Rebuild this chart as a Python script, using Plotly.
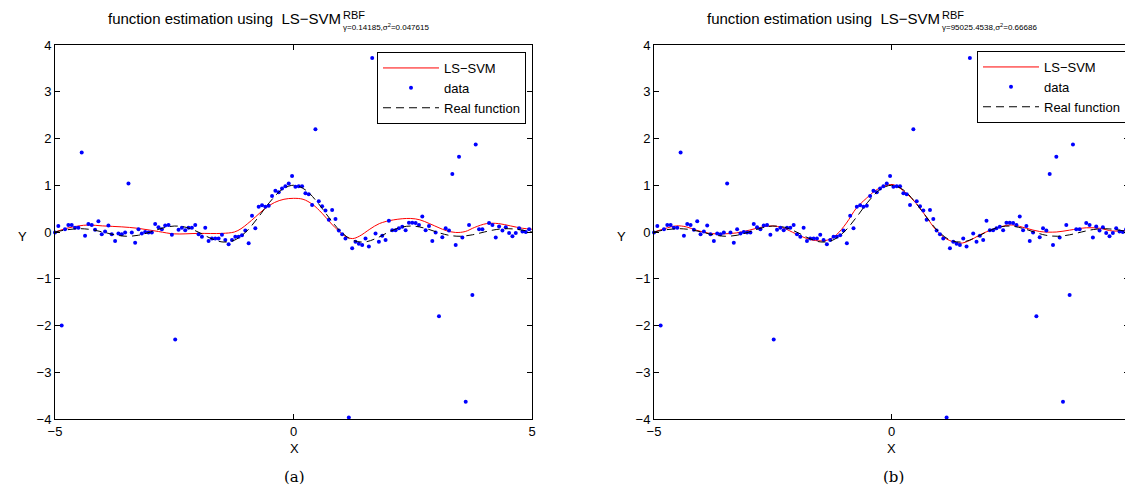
import plotly.graph_objects as go

W, H = 1133, 493
OFF = 8  # default page margin of the html body

# ---------------- data ----------------
X_DATA = [-5.00, -4.93, -4.86, -4.79, -4.72, -4.65, -4.58, -4.51, -4.44, -4.37,
          -4.30, -4.23, -4.16, -4.09, -4.02, -3.95, -3.88, -3.81, -3.74, -3.67,
          -3.60, -3.53, -3.46, -3.39, -3.32, -3.25, -3.18, -3.11, -3.04, -2.97,
          -2.90, -2.83, -2.76, -2.69, -2.62, -2.55, -2.48, -2.41, -2.34, -2.27,
          -2.20, -2.13, -2.06, -1.99, -1.92, -1.85, -1.78, -1.71, -1.64, -1.57,
          -1.50, -1.43, -1.36, -1.29, -1.22, -1.15, -1.08, -1.01, -0.94, -0.87,
          -0.80, -0.73, -0.66, -0.59, -0.52, -0.45, -0.38, -0.31, -0.24, -0.17,
          -0.10, -0.03, 0.04, 0.11, 0.18, 0.25, 0.32, 0.39, 0.46, 0.53,
          0.60, 0.67, 0.74, 0.81, 0.88, 0.95, 1.02, 1.09, 1.16, 1.23,
          1.30, 1.37, 1.44, 1.51, 1.58, 1.65, 1.72, 1.79, 1.86, 1.93,
          2.00, 2.07, 2.14, 2.21, 2.28, 2.35, 2.42, 2.49, 2.56, 2.63,
          2.70, 2.77, 2.84, 2.91, 2.98, 3.05, 3.12, 3.19, 3.26, 3.33,
          3.40, 3.47, 3.54, 3.61, 3.68, 3.75, 3.82, 3.89, 3.96, 4.03,
          4.10, 4.17, 4.24, 4.31, 4.38, 4.45, 4.52, 4.59, 4.66, 4.73,
          4.80, 4.87, 4.94]

Y_DATA = [-0.01, 0.13, -2.00, 0.06, 0.15, 0.15, 0.09, 0.09, 1.70, -0.08,
          0.17, 0.15, 0.05, 0.23, -0.05, 0.01, 0.14, -0.05, -0.19, -0.03,
          -0.05, -0.01, 1.04, -0.01, -0.23, 0.06, -0.03, 0.00, -0.01, -0.01,
          0.17, 0.10, 0.06, 0.14, 0.15, -0.06, -2.30, 0.05, 0.09, 0.04,
          0.09, 0.09, 0.15, -0.05, -0.10, 0.09, -0.19, -0.14, -0.14, -0.14,
          -0.06, -0.17, -0.26, -0.17, -0.10, -0.10, -0.07, 0.03, -0.24, 0.35,
          0.08, 0.54, 0.57, 0.54, 0.56, 0.77, 0.88, 0.85, 0.93, 0.98,
          1.04, 1.20, 0.97, 0.98, 0.98, 0.83, 0.81, 0.58, 2.20, 0.66,
          0.55, 0.46, 0.26, 0.47, 0.28, 0.03, -0.05, -0.14, -3.97, -0.35,
          -0.21, -0.25, -0.28, -0.14, -0.31, 3.72, -0.03, -0.21, -0.08, -0.17,
          0.24, 0.04, 0.04, 0.08, 0.11, 0.04, 0.20, 0.20, 0.19, 0.15,
          0.33, 0.04, 0.13, -0.19, -0.01, -1.80, -0.11, 0.08, 0.03, 1.24,
          -0.28, 1.61, -0.12, -3.63, 0.15, -1.35, 1.87, 0.06, 0.06, 2.39,
          0.19, 0.15, -0.12, 0.12, 0.03, 0.10, -0.02, -0.09, -0.02, 0.08,
          0.01, 0.00, 0.06]

X_REAL = [-5.0, -4.75, -4.5, -4.25, -4.0, -3.75, -3.5, -3.25, -3.0, -2.75,
          -2.5, -2.25, -2.0, -1.75, -1.5, -1.25, -1.0, -0.75, -0.5, -0.25,
          0.0, 0.25, 0.5, 0.75, 1.0, 1.25, 1.5, 1.75, 2.0, 2.25,
          2.5, 2.75, 3.0, 3.25, 3.5, 3.75, 4.0, 4.25, 4.5, 4.75, 5.0]
Y_REAL = [0.0, 0.0474, 0.0707, 0.0530, 0.0, -0.0600, -0.0909, -0.0693, 0.0, 0.0818,
          0.1273, 0.1000, 0.0, -0.1286, -0.2122, -0.1801, 0.0, 0.3001, 0.6366, 0.9003,
          1.0, 0.9003, 0.6366, 0.3001, 0.0, -0.1801, -0.2122, -0.1286, 0.0, 0.1000,
          0.1273, 0.0818, 0.0, -0.0693, -0.0909, -0.0600, 0.0, 0.0530, 0.0707, 0.0474, 0.0]

X_FIT_A = [-5.0, -4.75, -4.5, -4.3, -4.0, -3.6, -3.27, -2.83, -2.5, -2.0,
           -1.5, -1.24, -1.1, -0.96, -0.8, -0.6, -0.4, -0.2, 0.0, 0.2,
           0.4, 0.6, 0.8, 0.95, 1.1, 1.24, 1.38, 1.6, 1.8, 2.1,
           2.45, 2.65, 2.85, 3.05, 3.2, 3.4, 3.6, 3.8, 4.05, 4.3,
           4.55, 4.8, 5.0]
Y_FIT_A = [0.0, 0.08, 0.13, 0.15, 0.13, 0.11, 0.08, 0.01, -0.04, -0.03,
           -0.03, 0.0, 0.07, 0.18, 0.32, 0.50, 0.63, 0.70, 0.72, 0.70,
           0.59, 0.40, 0.17, 0.02, -0.10, -0.14, -0.09, 0.06, 0.18, 0.26,
           0.29, 0.26, 0.18, 0.09, 0.03, -0.01, 0.01, 0.10, 0.18, 0.18,
           0.13, 0.08, 0.06]

X_FIT_B = [-5.0, -4.78, -4.53, -4.32, -4.11, -3.83, -3.55, -3.27, -2.99, -2.71,
           -2.5, -2.29, -2.01, -1.72, -1.48, -1.34, -1.16, -0.95, -0.74, -0.53,
           -0.32, -0.1, 0.05, 0.31, 0.52, 0.73, 0.94, 1.16, 1.44, 1.65,
           1.86, 2.14, 2.42, 2.56, 2.84, 3.12, 3.47, 3.75, 4.10, 4.38,
           4.66, 5.0]
Y_FIT_B = [0.0, 0.07, 0.13, 0.11, 0.04, -0.03, -0.04, -0.02, 0.04, 0.11,
           0.13, 0.09, -0.04, -0.16, -0.19, -0.17, -0.06, 0.19, 0.51, 0.72,
           0.90, 1.00, 1.01, 0.83, 0.61, 0.33, 0.04, -0.15, -0.24, -0.18,
           -0.06, 0.06, 0.14, 0.15, 0.08, 0.01, 0.00, 0.04, 0.09, 0.08,
           0.02, 0.04]

TITLE_MAIN = "function estimation using  LS\u2212SVM"
TITLE_SUP = "RBF"
SUB_A = "\u03b3=0.14185,\u03c3<sup>2</sup>=0.047615"
SUB_B = "\u03b3=95025.4538,\u03c3<sup>2</sup>=0.66686"
X_TICKS = [-5, 0, 5]
Y_TICKS = [-4, -3, -2, -1, 0, 1, 2, 3, 4]

FONT = "Liberation Sans, Arial, Helvetica, sans-serif"


def px(x):
    return (x - OFF) / W


def py(y):
    return 1 - (y - OFF) / H


fig = go.Figure()

panels = [
    ("x", "y", "legend", X_FIT_A, Y_FIT_A),
    ("x2", "y2", "legend2", X_FIT_B, Y_FIT_B),
]
for xa, ya, lg, fx, fy in panels:
    fig.add_trace(go.Scatter(x=fx, y=fy, mode="lines", name="LS\u2212SVM",
                             line=dict(color="#ff0000", width=1, shape="spline"),
                             xaxis=xa, yaxis=ya, legend=lg))
    fig.add_trace(go.Scatter(x=X_DATA, y=Y_DATA, mode="markers", name="data",
                             marker=dict(color="#0000ff", size=4),
                             xaxis=xa, yaxis=ya, legend=lg, cliponaxis=False))
    fig.add_trace(go.Scatter(x=X_REAL, y=Y_REAL, mode="lines", name="Real function",
                             line=dict(color="#000000", width=1, dash="8px,5px", shape="spline"),
                             xaxis=xa, yaxis=ya, legend=lg))

axis_common = dict(showline=True, linecolor="black", linewidth=1, mirror="ticks",
                   ticks="inside", ticklen=5, tickcolor="black", showgrid=False,
                   zeroline=False, automargin=False,
                   tickfont=dict(family=FONT, size=13, color="black"))

ydom = [py(419), py(45)]
legend_common = dict(xanchor="right", yanchor="top", bordercolor="black", borderwidth=1,
                     bgcolor="white", font=dict(family=FONT, size=13),
                     tracegroupgap=0, itemwidth=56)
fig.update_layout(
    width=W, height=H,
    margin=dict(l=0, r=0, t=0, b=0, autoexpand=False),
    paper_bgcolor="white", plot_bgcolor="white",
    font=dict(family=FONT, size=13, color="black"),
    xaxis=dict(domain=[px(55), px(532)], range=[-5, 5], tickvals=X_TICKS, anchor="y", **axis_common),
    yaxis=dict(domain=ydom, range=[-4, 4], tickvals=Y_TICKS, anchor="x", **axis_common),
    xaxis2=dict(domain=[px(654), px(1129)], range=[-5, 5], tickvals=X_TICKS, anchor="y2", **axis_common),
    yaxis2=dict(domain=ydom, range=[-4, 4], tickvals=Y_TICKS, anchor="x2", **axis_common),
    legend=dict(x=px(526), y=py(52), **legend_common),
    legend2=dict(x=px(1126), y=py(51), **legend_common),
    showlegend=True,
)

ann = []
for main_right, sub, xcenter, ylab_x in [(343, SUB_A, 294, 22), (942, SUB_B, 892, 621)]:
    ann.append(dict(text=TITLE_MAIN, x=px(main_right), y=py(19), xanchor="right", yanchor="middle",
                    showarrow=False, xref="paper", yref="paper", font=dict(family=FONT, size=15)))
    ann.append(dict(text=TITLE_SUP, x=px(main_right - 1), y=py(15), xanchor="left", yanchor="middle",
                    borderpad=0, showarrow=False, xref="paper", yref="paper",
                    font=dict(family=FONT, size=11)))
    ann.append(dict(text=sub, x=px(main_right - 2), y=py(27), xanchor="left", yanchor="middle",
                    showarrow=False, xref="paper", yref="paper", font=dict(family=FONT, size=8)))
    ann.append(dict(text="X", x=px(xcenter), y=py(448), xanchor="center", yanchor="middle",
                    showarrow=False, xref="paper", yref="paper", font=dict(family=FONT, size=13)))
    ann.append(dict(text="Y", x=px(ylab_x), y=py(236), xanchor="center", yanchor="middle",
                    showarrow=False, xref="paper", yref="paper", font=dict(family=FONT, size=13)))
ann.append(dict(text="(a)", x=px(294), y=py(477), xanchor="center", yanchor="middle",
                showarrow=False, xref="paper", yref="paper",
                font=dict(family="DejaVu Serif, Liberation Serif, serif", size=15)))
ann.append(dict(text="(b)", x=px(893), y=py(477), xanchor="center", yanchor="middle",
                showarrow=False, xref="paper", yref="paper",
                font=dict(family="DejaVu Serif, Liberation Serif, serif", size=15)))
fig.update_layout(annotations=ann)

fig.write_html("out.html")
